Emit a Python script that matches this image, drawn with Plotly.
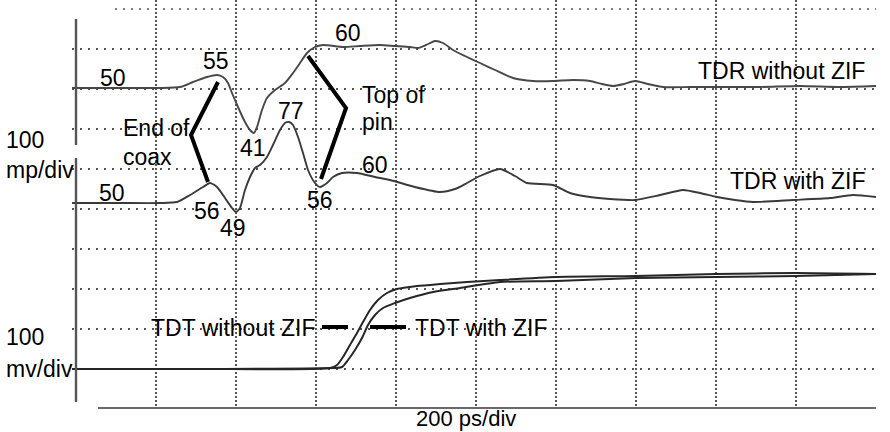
import plotly.graph_objects as go

# ---- data (time in ps, amplitude in screen divisions) ----
tdr_nozif_t = [-10, 110, 210, 260, 292.5, 327.5, 352.5, 367.5, 380, 390, 405, 422.5, 435, 445,
               452.5, 465, 477.5, 497.5, 522.5, 542.5, 560, 577.5, 597.5, 617.5, 667.5, 710,
               760, 797.5, 835, 855, 875, 897.5, 917.5, 942.5, 972.5, 1010, 1047.5, 1092.5,
               1142.5, 1192.5, 1242.5, 1285, 1315, 1342.5, 1370, 1397.5, 1430, 1467.5, 1535,
               1600, 1710, 1810, 1910, 2000]
tdr_nozif_v = [8.025, 8.025, 8.025, 8.05, 8.175, 8.3, 8.35, 8.3, 8.15, 7.9, 7.55, 7.175, 6.975,
               6.9, 7.05, 7.475, 7.775, 7.975, 8.15, 8.4, 8.65, 8.9, 9.05, 9.1, 9.05, 9.075,
               9.1, 9.075, 9.05, 9.025, 9.1, 9.2, 9.15, 8.975, 8.825, 8.65, 8.475, 8.275,
               8.2, 8.2, 8.225, 8.2, 8.125, 8.075, 8.125, 8.2, 8.125, 8.05, 8.05,
               8.05, 8.05, 8.075, 8.05, 8.075]

tdr_zif_t = [-10, 110, 210, 252.5, 285, 317.5, 335, 352.5, 372.5, 390, 400, 410, 422.5, 435,
             447.5, 460, 477.5, 492.5, 510, 522.5, 532.5, 542.5, 555, 567.5, 580, 597.5, 610,
             627.5, 642.5, 665, 702.5, 747.5, 785, 847.5, 910, 947.5, 977.5, 1010, 1060,
             1097.5, 1127.5, 1192.5, 1235, 1285, 1335, 1397.5, 1460, 1517.5, 1560, 1602.5,
             1647.5, 1692.5, 1792.5, 1885, 1942.5, 2000]
tdr_zif_v = [5.15, 5.15, 5.15, 5.175, 5.35, 5.55, 5.65, 5.55, 5.275, 5.025, 4.925, 5.025, 5.475,
             5.8, 6.025, 6.1, 6.3, 6.6, 6.975, 7.15, 7.175, 7.1, 6.8, 6.4, 5.975, 5.65, 5.55,
             5.65, 5.8, 5.9, 5.9, 5.8, 5.725, 5.55, 5.425, 5.5, 5.65, 5.825, 6.0,
             5.825, 5.65, 5.6, 5.4, 5.3, 5.25, 5.225, 5.35, 5.475, 5.4, 5.3,
             5.225, 5.175, 5.225, 5.275, 5.35, 5.3]

tdt_nozif_t = [-10, 310, 635, 652.5, 667.5, 685, 702.5, 717.5, 735, 755, 777.5, 802.5, 852.5,
               910, 977.5, 1060, 1200, 1400, 1600, 1800, 2000]
tdt_nozif_v = [1.0, 1.0, 1.025, 1.1, 1.3, 1.6, 1.9, 2.175, 2.475, 2.725, 2.9, 3.0, 3.075,
               3.125, 3.175, 3.225, 3.3, 3.325, 3.375, 3.4, 3.375]

tdt_zif_t = [-10, 310, 642.5, 665, 680, 697.5, 715, 730, 747.5, 767.5, 797.5, 835, 892.5,
             960, 1060, 1200, 1400, 1600, 1800, 2000]
tdt_zif_v = [1.0, 1.0, 1.025, 1.05, 1.225, 1.475, 1.775, 2.1, 2.35, 2.525, 2.65, 2.775, 2.925,
             3.025, 3.175, 3.2, 3.275, 3.3, 3.325, 3.375]

# impedance labels (ohms) and where they sit
imp_labels = ["50", "55", "41", "77", "60", "60", "56", "50", "56", "49"]
imp_t = [92.5, 350, 442.5, 537.5, 680, 747.5, 610, 90, 327.5, 392.5]
imp_v = [8.275, 8.7, 6.525, 7.45, 9.4, 6.1, 5.225, 5.4, 4.95, 4.525]

grid_t = [200, 400, 600, 800, 1000, 1200, 1400, 1600, 1800, 2000]
grid_v = [1, 2, 3, 4, 5, 6, 7, 8, 9]

# callout lines
coax_t, coax_v = [355, 287.5, 330], [8.175, 6.85, 5.675]
pin_t, pin_v = [580, 675, 612.5], [8.825, 7.525, 5.75]
dash1_t, dash1_v = [615, 680], [2.05, 2.05]
dash2_t, dash2_v = [735, 825], [2.05, 2.05]

X_RANGE = [-10, 2000]
Y_RANGE = [0, 10.225]
Y_FIG_BOTTOM = -0.575   # bottom edge of the figure, in divisions

FONT = "Liberation Sans, Arial, sans-serif"
FS = 23


def px(t):
    return (t - X_RANGE[0]) / (X_RANGE[1] - X_RANGE[0])


def py(v):
    return (v - Y_RANGE[0]) / (Y_RANGE[1] - Y_RANGE[0])


fig = go.Figure()
for t, v, col, w in [(tdr_nozif_t, tdr_nozif_v, "#484848", 1.9),
                     (tdr_zif_t, tdr_zif_v, "#3a3a3a", 1.9),
                     (tdt_nozif_t, tdt_nozif_v, "#262626", 2.0),
                     (tdt_zif_t, tdt_zif_v, "#262626", 2.0)]:
    fig.add_trace(go.Scatter(x=t, y=v, mode="lines",
                             line=dict(color=col, width=w, shape="spline", smoothing=0.6),
                             hoverinfo="skip", showlegend=False))

for t, v in [(coax_t, coax_v), (pin_t, pin_v), (dash1_t, dash1_v), (dash2_t, dash2_v)]:
    fig.add_trace(go.Scatter(x=t, y=v, mode="lines", line=dict(color="black", width=4),
                             hoverinfo="skip", showlegend=False))

ann = []
for s, t, v in zip(imp_labels, imp_t, imp_v):
    ann.append(dict(x=t, y=v, text=s, xanchor="center"))
ann += [
    dict(x=112.5, y=7.025, text="End of", xanchor="left"),
    dict(x=112.5, y=6.3, text="coax", xanchor="left"),
    dict(x=710, y=7.85, text="Top of", xanchor="left"),
    dict(x=710, y=7.175, text="pin", xanchor="left"),
    dict(x=1977.5, y=8.45, text="TDR without ZIF", xanchor="right"),
    dict(x=1977.5, y=5.7, text="TDR with ZIF", xanchor="right"),
    dict(x=602.5, y=2.025, text="TDT without ZIF", xanchor="right"),
    dict(x=842.5, y=2.025, text="TDT with ZIF", xanchor="left"),
]
for a in ann:
    a.update(xref="x", yref="y", yanchor="middle", showarrow=False,
             font=dict(family=FONT, size=FS, color="black"))

# labels outside the grid: placed in paper coordinates
outside = [
    dict(x=px(-180), y=py(6.725), text="100", xanchor="left", yanchor="middle"),
    dict(x=px(-180), y=py(5.975), text="mp/div", xanchor="left", yanchor="middle"),
    dict(x=px(-180), y=py(1.8), text="100", xanchor="left", yanchor="middle"),
    dict(x=px(-180), y=py(1.0), text="mv/div", xanchor="left", yanchor="middle"),
]
for a in outside:
    a.update(xref="paper", yref="paper", showarrow=False,
             font=dict(family=FONT, size=FS, color="black"))
bottom_label = dict(x=px(975), y=py(Y_FIG_BOTTOM), text="200 ps/div", xanchor="center",
                    yanchor="bottom", borderpad=0, xref="paper", yref="paper", showarrow=False,
                    font=dict(family=FONT, size=22, color="black"))

shapes = [
    # left axis (two segments) and bottom baseline
    dict(type="line", xref="x", yref="y", x0=0, x1=0, y0=9.75, y1=6.6, line=dict(color="#555", width=2.4)),
    dict(type="line", xref="x", yref="y", x0=0, x1=0, y0=6.275, y1=0.175, line=dict(color="#555", width=2.4)),
    dict(type="line", xref="x", yref="y", x0=55, x1=2000, y0=0.02, y1=0.02, line=dict(color="#6a6a6a", width=2.2)),
    dict(type="line", xref="x", yref="y", x0=97.5, x1=2000, y0=10, y1=10, line=dict(color="#555", width=1.5, dash="2px,6px")),
    # baseline tick at left
    dict(type="line", xref="x", yref="y", x0=-10, x1=0, y0=5.15, y1=5.15, line=dict(color="#444", width=1.6)),
]

fig.update_layout(
    width=890, height=432,
    margin=dict(l=72, r=14, t=0, b=23),
    paper_bgcolor="white", plot_bgcolor="white",
    annotations=ann + outside + [bottom_label], shapes=shapes,
    xaxis=dict(range=X_RANGE, tickvals=grid_t, showticklabels=False, ticks="",
               showgrid=True, gridcolor="#555", gridwidth=1.5, griddash="1.5px,2.5px",
               zeroline=False, showline=False, fixedrange=True),
    yaxis=dict(range=Y_RANGE, tickvals=grid_v, showticklabels=False, ticks="",
               showgrid=True, gridcolor="#555", gridwidth=1.5, griddash="2px,6px",
               zeroline=False, showline=False, fixedrange=True),
)
fig.write_html("out.html", config={"displayModeBar": False})
